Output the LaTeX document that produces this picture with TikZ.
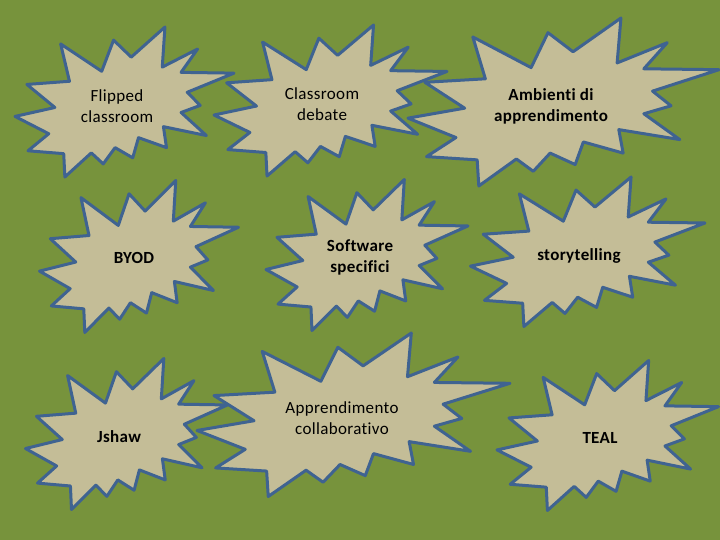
\documentclass[tikz,border=0pt]{standalone}
\usepackage{fontspec}
\setmainfont{Carlito}[Ligatures=NoCommon,LetterSpace=2]
\definecolor{bgc}{HTML}{77933C}
\definecolor{tanc}{HTML}{C4BD97}
\definecolor{edgec}{HTML}{3F6391}
\tikzset{
  burststyle/.style={draw=edgec,fill=tanc,line width=3pt,line join=round},
  lbl/.style={align=center,text=black,inner sep=0pt,font=\fontsize{17}{21}\selectfont},
  lblb/.style={lbl,font=\fontsize{17}{21}\selectfont\bfseries}
}
\newcommand\burst[4]{%
 \begin{scope}[shift={(#1,#2)},xscale=#3/216,yscale=#4/216]
 \draw[burststyle] (114.62,43.42) -- (147.90,0) -- (145.25,57.77) -- (180.07,31.72) -- (163.80,65.32) -- (216,66.45) -- (169.85,94.02) -- (182.70,112.90) -- (163.80,123.10) -- (188.77,156.32) -- (146.40,143.50) -- (149.42,173.70) -- (121.80,159.35) -- (116.12,188.42) -- (98.72,173.70) -- (87,197.12) -- (75.27,181.25) -- (49.17,216) -- (48.05,182.40) -- (12.85,178.25) -- (33.30,153.70) -- (0,128.77) -- (39.35,115.92) -- (11.72,82.70) -- (53.72,78.17) -- (45.02,24.37) -- (85.50,63.82) -- (97.22,18.87) -- cycle;
 \end{scope}}
\begin{document}
\begin{tikzpicture}[x=1pt,y=-1pt]
\useasboundingbox (0,0) rectangle (720,540);
\fill[bgc] (0,0) rectangle (720,540);
\burst{15}{27}{219}{150}
\burst{214}{25}{233}{151}
\burst{408}{18}{311}{168}
\burst{39.5}{180.5}{199}{152}
\burst{266}{179.5}{202}{151}
\burst{470.5}{177}{234.5}{149.5}
\burst{25.5}{358.5}{202}{151}
\burst{197}{333}{313}{163.5}
\burst{497}{360.5}{221.5}{150}
\node[lbl]  (n1) at (117,106) {Flipped\\classroom};
\node[lbl]  (n2) at (322,104) {Classroom\\debate};
\node[lblb] (n3) at (551,106) {Ambienti di\\apprendimento};
\node[lblb] (n4) at (134,258) {BYOD};
\node[lblb] (n5) at (360,257) {Software\\specifici};
\node[lblb] (n6) at (579,256) {storytelling};
\node[lblb] (n7) at (119,437) {Jshaw};
\node[lbl]  (n8) at (342,418) {Apprendimento\\collaborativo};
\node[lblb] (n9) at (600,438) {TEAL};
\end{tikzpicture}
\end{document}
